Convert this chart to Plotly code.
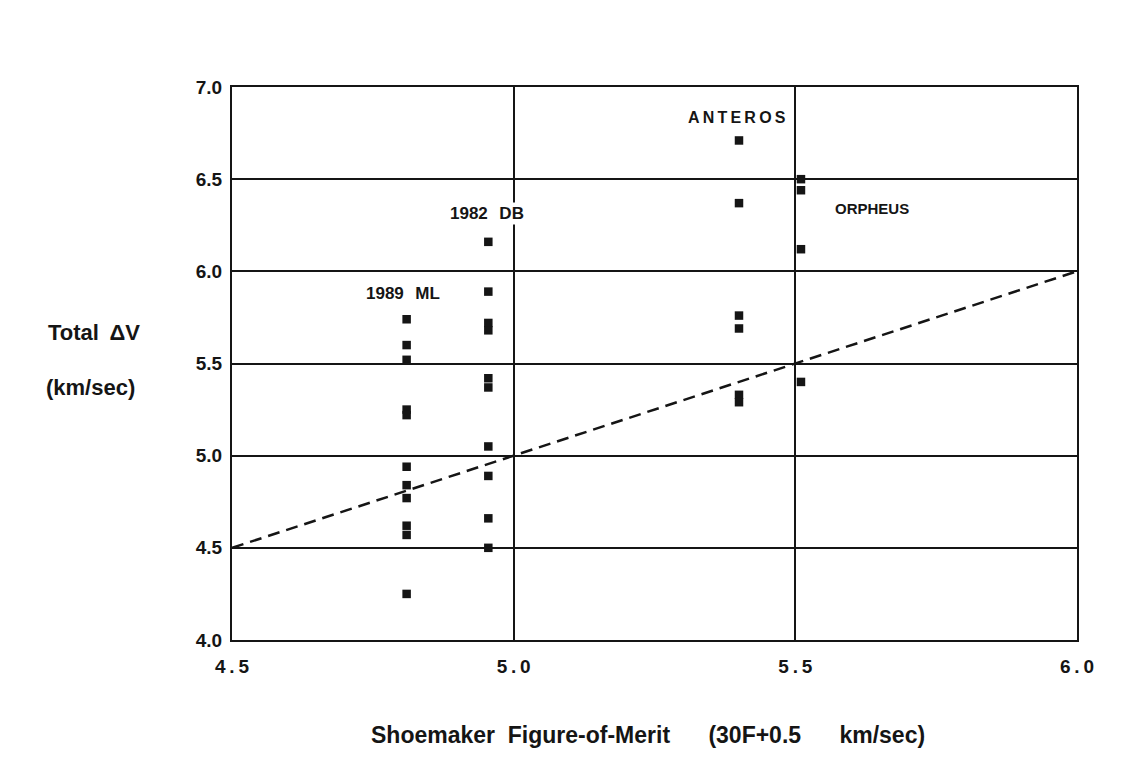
import plotly.graph_objects as go

# Data
ml_x = [4.81] * 11
ml_y = [5.74, 5.60, 5.52, 5.25, 5.22, 4.94, 4.84, 4.77, 4.62, 4.57, 4.25]

db_x = [4.955] * 10
db_y = [6.16, 5.89, 5.72, 5.68, 5.42, 5.37, 5.05, 4.89, 4.66, 4.50]

anteros_x = [5.40] * 6
anteros_y = [6.71, 6.37, 5.76, 5.69, 5.33, 5.29]

orpheus_x = [5.51] * 4
orpheus_y = [6.50, 6.44, 6.12, 5.40]

diag_x = [4.5, 6.0]
diag_y = [4.5, 6.0]

x_ticks = [4.5, 5.0, 5.5, 6.0]
x_tick_labels = ["4\u2009.\u20095", "5\u2009.\u20090", "5\u2009.\u20095", "6\u2009.\u20090"]
y_ticks = [4.0, 4.5, 5.0, 5.5, 6.0, 6.5, 7.0]
y_tick_labels = ["4.0", "4.5", "5.0", "5.5", "6.0", "6.5", "7.0"]

labels = ["1989\u2009\u2009 ML", "1982\u2009\u2009 DB",
          "A\u2009N\u2009T\u2009E\u2009R\u2009O\u2009S", "ORPHEUS"]
label_x = [4.803, 4.952, 5.396, 5.636]
label_y = [5.88, 6.315, 6.835, 6.34]
label_size = [17, 17, 16, 15]

FONT = "Liberation Sans, Arial, Helvetica, sans-serif"
INK = "#151515"

fig = go.Figure()

fig.add_trace(go.Scatter(x=diag_x, y=diag_y, mode="lines",
                         line=dict(color=INK, width=2.5, dash="12px,7px"),
                         showlegend=False, hoverinfo="skip"))

for xs, ys in [(ml_x, ml_y), (db_x, db_y), (anteros_x, anteros_y), (orpheus_x, orpheus_y)]:
    fig.add_trace(go.Scatter(x=xs, y=ys, mode="markers",
                             marker=dict(symbol="square", size=8.5, color=INK),
                             showlegend=False))

for i, (t, lx, ly, sz) in enumerate(zip(labels, label_x, label_y, label_size)):
    fig.add_annotation(x=lx, y=ly, xref="x", yref="y", text="<b>" + t + "</b>",
                       showarrow=False,
                       font=dict(family=FONT, size=sz, color=INK),
                       bgcolor="white" if i == 1 else None)

# Axis titles
fig.add_annotation(xref="paper", yref="paper", x=-0.220, y=0.556, xanchor="left",
                   text="<b>Total\u2009 \u0394V</b>", showarrow=False,
                   font=dict(family=FONT, size=22, color=INK))
fig.add_annotation(xref="paper", yref="paper", x=-0.222, y=0.4565, xanchor="left",
                   text="<b>(km/sec)</b>", showarrow=False,
                   font=dict(family=FONT, size=22, color=INK))
fig.add_annotation(xref="paper", yref="paper", x=0.492, y=-0.199,
                   text="<b>Shoemaker  Figure-of-Merit      (30F+0.5      km/sec)</b>",
                   showarrow=False, font=dict(family=FONT, size=23, color=INK))

fig.update_xaxes(range=[4.5, 6.0], tickvals=x_ticks, ticktext=x_tick_labels,
                 showgrid=True, gridcolor=INK, gridwidth=1.8,
                 showline=True, linecolor=INK, linewidth=2, mirror=True,
                 zeroline=False, ticks="", ticklabelstandoff=8,
                 tickfont=dict(family=FONT, size=19, color=INK, weight="bold"))
fig.update_yaxes(range=[4.0, 7.0], tickvals=y_ticks, ticktext=y_tick_labels,
                 showgrid=True, gridcolor=INK, gridwidth=1.8,
                 showline=True, linecolor=INK, linewidth=2, mirror=True,
                 zeroline=False, ticks="", ticklabelstandoff=4,
                 tickfont=dict(family=FONT, size=19, color=INK, weight="bold"))

fig.update_layout(width=1133, height=760,
                  margin=dict(l=224, r=64, t=79, b=128),
                  paper_bgcolor="white", plot_bgcolor="white",
                  showlegend=False)

fig.write_html("out.html")
